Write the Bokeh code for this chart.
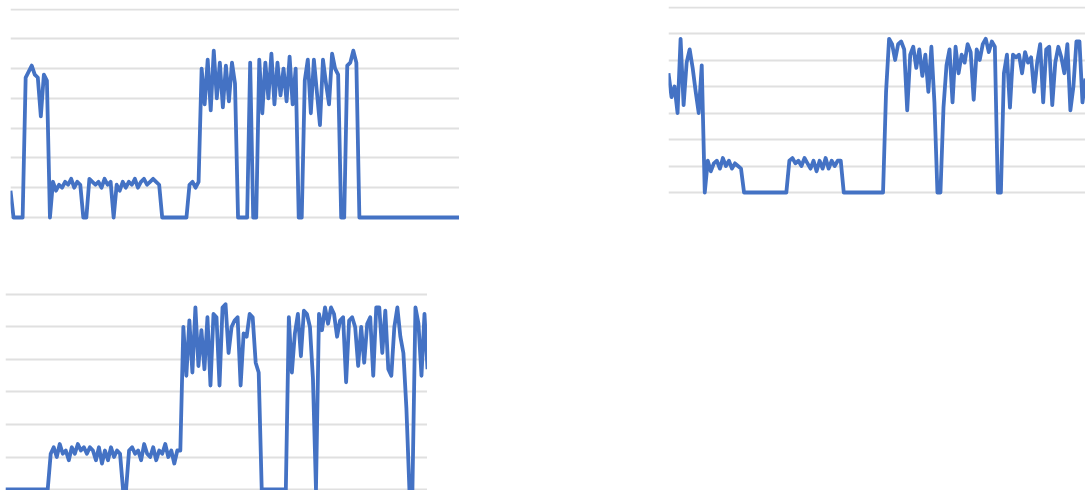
from bokeh.plotting import figure
from bokeh.layouts import row, column
from bokeh.models import Range1d, FixedTicker, ColumnDataSource
from bokeh.embed import file_html
from bokeh.resources import INLINE

# ---- data (gridlines every 10 units) ----
series_a = [9, 0, 0, 0, 0, 47, 49, 51, 48, 47, 34, 48, 46, 0,
            12, 9, 11, 10, 12, 11, 13, 10, 12, 11, 0, 0, 13,
            12, 11, 12, 10, 13, 11, 12, 0,
            11, 9, 12, 10, 12, 11, 13, 10, 12, 13, 11, 12, 13, 12, 11,
            0, 0, 0, 0, 0, 0, 0, 0, 0,
            11, 12, 10, 12,
            50, 38, 53, 36, 56, 40, 52, 37, 51, 39, 52, 45,
            0, 0, 0, 0, 52, 0, 0,
            53, 35, 52, 40, 55, 38, 52, 41, 50, 39, 54, 38, 50,
            0, 0,
            46, 53, 35, 53, 42, 31, 53, 45, 38, 55, 50, 48,
            0, 0, 51, 52, 56, 52,
            0, 0, 0, 0, 0, 0, 0, 0, 0, 0, 0, 0, 0, 0, 0, 0, 0,
            0, 0, 0, 0, 0, 0, 0, 0, 0, 0, 0, 0, 0, 0, 0, 0, 0]

series_b = [45, 36, 40, 30, 58, 33, 49, 54, 47, 38, 30, 48, 0,
            12, 8, 11, 12, 9, 13, 10, 12, 9, 11, 10, 9,
            0, 0, 0, 0, 0, 0, 0, 0, 0, 0, 0, 0, 0, 0, 0,
            12, 13, 11, 12, 10, 13, 11, 9, 12, 8, 12, 9, 13, 9, 12, 10, 12, 12,
            0, 0, 0, 0, 0, 0, 0, 0, 0, 0, 0, 0, 0, 0,
            38, 58, 56, 50, 56, 57, 54, 31, 52, 55, 47, 54, 44, 52, 38, 55,
            34, 0, 0, 32, 48, 54, 34, 55, 45, 52, 49, 56, 53, 35, 54, 50,
            56, 58, 53, 57, 55, 0, 0,
            45, 52, 32, 52, 51, 52, 45, 53, 49, 51, 38, 49, 56, 34, 54, 55,
            33, 49, 55, 51, 45, 56, 31, 40, 57, 57, 34, 43]

series_c = [0, 0, 0, 0, 0, 0, 0, 0, 0, 0, 0, 0, 0, 0, 0,
            11, 13, 10, 14, 11, 12, 9, 13, 11, 14, 12, 13, 11, 13, 12, 9,
            13, 8, 12, 9, 13, 10, 12, 11, 0, 0,
            12, 13, 11, 12, 9, 14, 11, 10, 13, 9, 12, 11, 14, 10, 12, 8, 12, 12,
            50, 35, 52, 36, 56, 38, 49, 37, 53, 32, 54, 53, 32, 56, 57, 42,
            50, 52, 53, 32, 48, 47, 54, 53, 39, 36,
            0, 0, 0, 0, 0, 0, 0, 0, 0,
            53, 36, 48, 54, 41, 55, 54, 50, 34, 0,
            54, 49, 56, 51, 56, 54, 47, 52, 53, 33, 52, 53, 50, 38, 50, 39,
            51, 53, 35, 56, 56, 42, 55, 37, 35, 50, 56, 47, 42, 25, 0, 0,
            56, 51, 35, 54, 37]

grid_a = [0, 10, 20, 30, 40, 50, 60, 70]
grid_b = [0, 10, 20, 30, 40, 50, 60, 70]
grid_c = [0, 10, 20, 30, 40, 50, 60]

LINE = "#4472C4"
GRID = "#e0e0e0"


def make(values, ticks, w, h, ystart, yend):
    xs = list(range(len(values)))
    p = figure(width=w, height=h, output_backend="svg", toolbar_location=None,
               x_axis_location=None, y_axis_location=None,
               x_range=Range1d(0, len(values) - 1),
               y_range=Range1d(ystart, yend),
               min_border=0, min_border_left=0, min_border_right=0,
               min_border_top=0, min_border_bottom=0)
    p.outline_line_color = None
    p.background_fill_color = "white"
    p.border_fill_color = "white"
    p.xgrid.visible = False
    p.ygrid.ticker = FixedTicker(ticks=ticks)
    p.ygrid.grid_line_color = GRID
    p.ygrid.grid_line_width = 2
    src = ColumnDataSource(dict(x=xs, y=values))
    p.line("x", "y", source=src, line_color=LINE, line_width=3.8,
           line_join="round")
    return p


p1 = make(series_a, grid_a, 449, 212, -1.0, 70.17)
p2 = make(series_b, grid_b, 417, 189, -1.13, 70.19)
p3 = make(series_c, grid_c, 422, 198, -0.3, 60.6)

p1.margin = (8, 0, 0, 10)
p2.margin = (6, 0, 0, 209)
p3.margin = (72, 0, 0, 5)

layout = column(row(p1, p2), p3)

open("out.html", "w").write(file_html(layout, INLINE))
